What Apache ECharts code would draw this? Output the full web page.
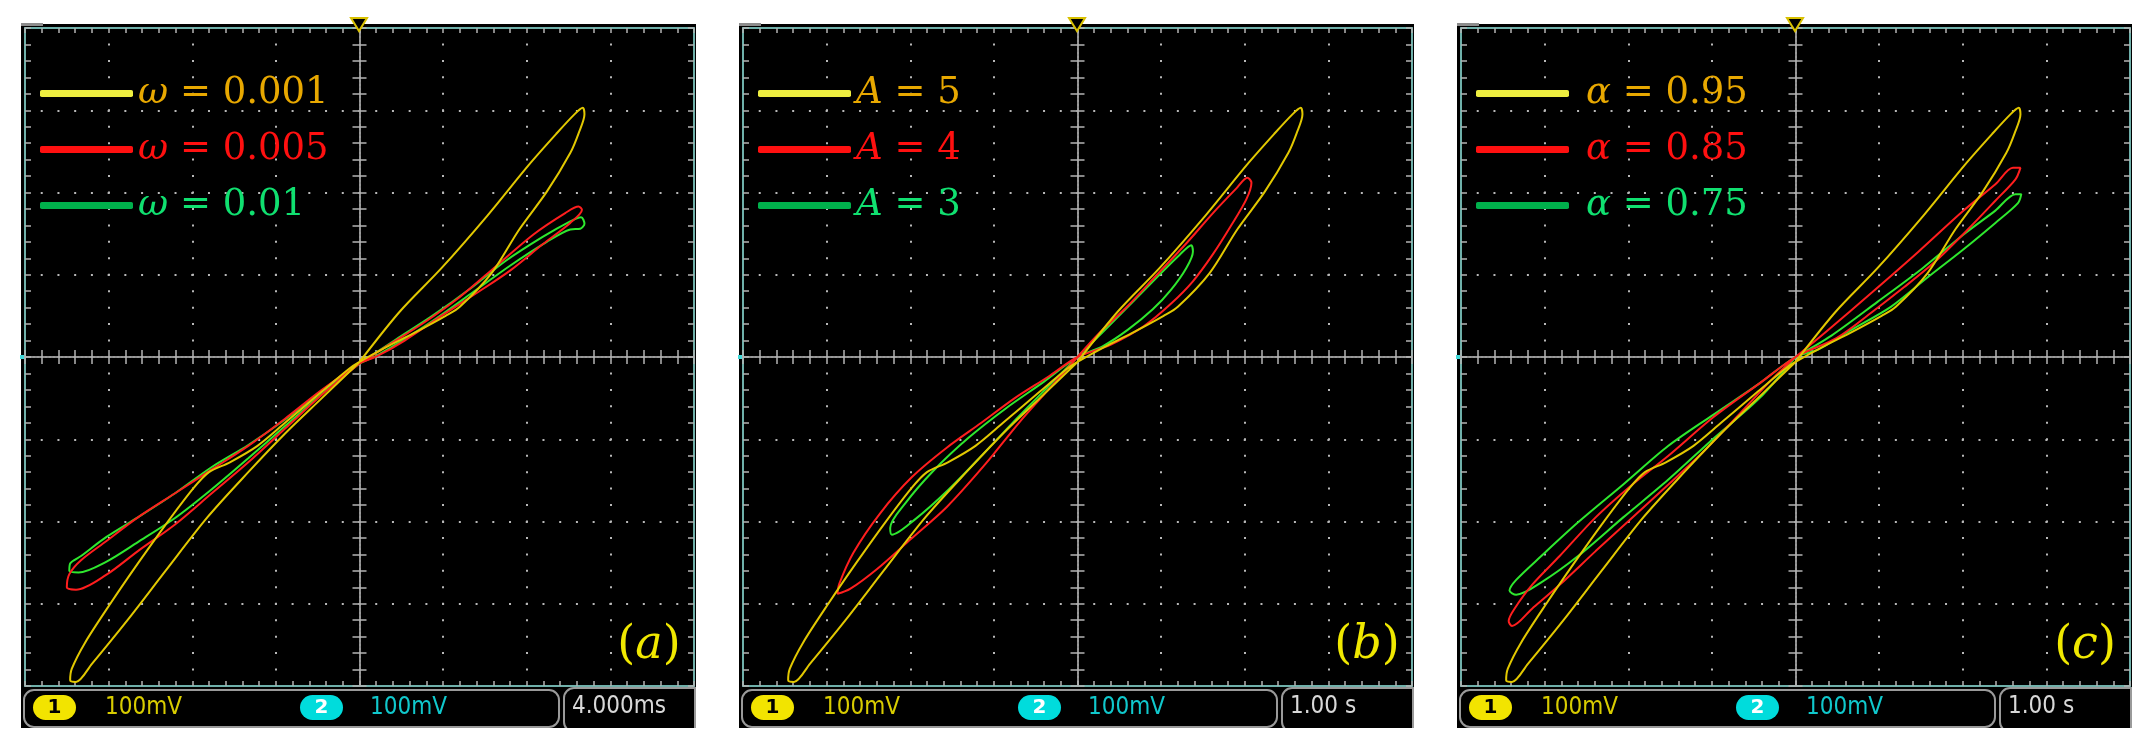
<!DOCTYPE html>
<html>
<head>
<meta charset="utf-8">
<script src="https://cdn.jsdelivr.net/npm/echarts@6/dist/echarts.min.js"></script>
<style>
  html, body { margin: 0; padding: 0; background: #fff; }
  #main { width: 2151px; height: 752px; }
</style>
</head>
<body>
<div id="main"></div>
<script>
// ---- text ----
var panelLabels = ['a', 'b', 'c'];
var seriesNames = [
  ['ω = 0.001', 'ω = 0.005', 'ω = 0.01'],
  ['A = 5', 'A = 4', 'A = 3'],
  ['α = 0.95', 'α = 0.85', 'α = 0.75']
];
var channelLabels = ['100mV', '100mV'];
var timeLabels = ['4.000ms', '1.00 s', '1.00 s'];

// ---- loops, in scope divisions (x, y) ----
// yellow reference loop (same settings in all three panels)
var baseLoop = [[0,-0.06],[0.48,0.55],[0.98,1.08],[1.53,1.72],[2.02,2.33],[2.35,2.71],[2.57,2.95],[2.67,3.03],[2.69,2.95],
  [2.62,2.72],[2.52,2.48],[2.24,2.01],[1.91,1.55],[1.58,1.02],[1.20,0.61],[1.03,0.50],[0.65,0.29],[0.32,0.12],[0,-0.06],
  [-0.12,-0.14],[-0.45,-0.42],[-0.89,-0.80],[-1.22,-1.08],[-1.55,-1.28],[-1.80,-1.40],[-1.99,-1.60],[-2.32,-2.04],
  [-2.65,-2.51],[-2.98,-3.00],[-3.28,-3.47],[-3.44,-3.79],[-3.46,-3.93],[-3.39,-3.95],[-3.20,-3.73],[-2.76,-3.18],
  [-2.32,-2.60],[-1.82,-1.95],[-1.33,-1.40],[-0.89,-0.93],[-0.45,-0.50],[0,-0.06]];

var omega005 = [[0,-0.08],[0.37,0.16],[0.76,0.41],[1.20,0.73],[1.64,1.11],[2.08,1.49],[2.46,1.75],[2.62,1.83],[2.66,1.79],
  [2.52,1.63],[2.19,1.37],[1.80,1.05],[1.42,0.79],[0.98,0.50],[0.54,0.20],[0.21,0.01],[0,-0.08],
  [-0.45,-0.40],[-0.89,-0.75],[-1.33,-1.08],[-1.77,-1.37],[-2.21,-1.66],[-2.65,-1.95],[-3.03,-2.24],[-3.33,-2.47],
  [-3.47,-2.64],[-3.50,-2.80],[-3.39,-2.83],[-3.03,-2.65],[-2.65,-2.36],[-2.21,-2.04],[-1.77,-1.66],[-1.33,-1.28],
  [-0.89,-0.87],[-0.45,-0.46],[0,-0.08]];

var omega01 = [[0,-0.08],[0.43,0.21],[0.87,0.50],[1.31,0.82],[1.75,1.17],[2.19,1.46],[2.52,1.65],[2.65,1.70],[2.69,1.62],
  [2.64,1.56],[2.52,1.55],[2.24,1.40],[1.80,1.11],[1.36,0.79],[0.92,0.47],[0.48,0.18],[0.21,0.02],[0,-0.08],
  [-0.45,-0.41],[-0.89,-0.76],[-1.33,-1.07],[-1.77,-1.34],[-2.21,-1.66],[-2.65,-1.95],[-3.03,-2.19],[-3.33,-2.42],
  [-3.46,-2.51],[-3.47,-2.60],[-3.36,-2.62],[-3.03,-2.49],[-2.65,-2.25],[-2.21,-1.96],[-1.77,-1.61],[-1.33,-1.23],
  [-0.89,-0.84],[-0.45,-0.45],[0,-0.08]];

var ampl4 = [[0,0],[0.25,0.28],[0.60,0.62],[0.95,1.00],[1.30,1.38],[1.62,1.75],[1.90,2.05],[2.03,2.18],[2.08,2.12],
  [2.02,1.92],[1.85,1.62],[1.62,1.25],[1.38,0.92],[1.12,0.65],[0.80,0.38],[0.40,0.15],[0,0],
  [-0.35,-0.24],[-0.75,-0.50],[-1.15,-0.80],[-1.56,-1.10],[-1.98,-1.46],[-2.36,-1.90],[-2.68,-2.38],[-2.85,-2.76],
  [-2.87,-2.88],[-2.72,-2.82],[-2.40,-2.58],[-2.00,-2.22],[-1.56,-1.82],[-1.10,-1.30],[-0.70,-0.80],[-0.35,-0.40],[0,0]];

var ampl3 = [[0,0],[0.30,0.30],[0.65,0.66],[0.98,1.00],[1.22,1.24],[1.36,1.36],[1.38,1.28],[1.30,1.08],[1.12,0.82],
  [0.90,0.58],[0.60,0.33],[0.30,0.13],[0,0],
  [-0.40,-0.30],[-0.85,-0.62],[-1.30,-0.98],[-1.72,-1.38],[-2.06,-1.78],[-2.24,-2.08],[-2.22,-2.16],[-1.95,-1.98],
  [-1.55,-1.62],[-1.10,-1.15],[-0.70,-0.72],[-0.35,-0.36],[0,0]];

var alpha085 = [[0,0],[0.38,0.32],[0.92,0.79],[1.47,1.28],[2.01,1.78],[2.39,2.10],[2.60,2.30],[2.69,2.30],[2.63,2.16],
  [2.39,1.90],[2.06,1.55],[1.68,1.17],[1.30,0.85],[0.92,0.55],[0.49,0.23],[0,0],
  [-0.43,-0.32],[-0.98,-0.73],[-1.52,-1.20],[-1.95,-1.55],[-2.39,-1.95],[-2.82,-2.42],[-3.15,-2.77],[-3.36,-3.06],
  [-3.43,-3.21],[-3.39,-3.27],[-3.15,-3.06],[-2.82,-2.77],[-2.39,-2.36],[-1.95,-1.95],[-1.52,-1.55],[-1.09,-1.14],
  [-0.65,-0.67],[-0.27,-0.26],[0,0]];

var alpha075 = [[0,0],[0.43,0.26],[0.98,0.67],[1.52,1.08],[2.01,1.49],[2.39,1.78],[2.63,1.98],[2.70,1.98],[2.66,1.87],
  [2.39,1.63],[2.01,1.31],[1.57,0.96],[1.14,0.61],[0.65,0.32],[0.27,0.09],[0,0],
  [-0.43,-0.32],[-0.98,-0.70],[-1.52,-1.08],[-2.06,-1.55],[-2.60,-2.01],[-3.04,-2.42],[-3.34,-2.71],[-3.42,-2.84],
  [-3.34,-2.89],[-3.04,-2.74],[-2.60,-2.42],[-2.06,-1.95],[-1.52,-1.49],[-0.98,-0.99],[-0.43,-0.50],[0,0]];

var panelData = [
  [baseLoop, omega005, omega01],
  [baseLoop, ampl4, ampl3],
  [baseLoop, alpha085, alpha075]
];

// ---- look ----
var curveColors = ['#e2c800', '#ff1e1e', '#2ee82e'];
var legendLineColors = ['#eeee40', '#ff1010', '#00b04c'];
var legendTextColors = ['#e8a800', '#ff1010', '#10e070'];
var panelX = [21, 739, 1457];
var gridW = 669, gridH = 658;
var tickColor = '#b4b4b4';

var chart = echarts.init(document.getElementById('main'));

var grids = [], xAxes = [], yAxes = [], series = [], legends = [], graphics = [];

function tick(inside, len) {
  return { show: true, inside: inside, length: len, lineStyle: { color: tickColor, width: 1.5 } };
}
function minor(len) {
  return { show: true, splitNumber: 5, length: len, lineStyle: { color: tickColor, width: 1.5 } };
}

for (var g = 0; g < 3; g++) {
  var ox = panelX[g];
  grids.push({ left: ox + 4, top: 28, width: gridW, height: gridH, containLabel: false });

  var base = { type: 'value', gridIndex: g, min: -4, max: 4, interval: 1, silent: true,
    axisLabel: { show: false }, splitLine: { show: false } };
  var border = { onZero: false, lineStyle: { color: '#6fb0aa', width: 2 } };
  var centre = { onZero: true, lineStyle: { color: '#9a9a9a', width: 2, type: [2, 2] } };

  // border axes (with the dotted grid) and the two halves of the centre crosses
  xAxes.push(Object.assign({}, base, { position: 'bottom', axisLine: border, axisTick: tick(true, 5), minorTick: minor(5),
    splitLine: { show: true, lineStyle: { color: '#b8b8b8', width: 2, type: [2, gridH / 40 - 2], dashOffset: 1 } } }));
  xAxes.push(Object.assign({}, base, { position: 'top', axisLine: border, axisTick: tick(true, 5), minorTick: minor(5) }));
  xAxes.push(Object.assign({}, base, { position: 'bottom', axisLine: centre, axisTick: tick(true, 7), minorTick: minor(7) }));
  xAxes.push(Object.assign({}, base, { position: 'bottom', axisLine: centre, axisTick: tick(false, 7), minorTick: minor(7) }));

  yAxes.push(Object.assign({}, base, { position: 'left', axisLine: border, axisTick: tick(true, 6), minorTick: minor(6),
    splitLine: { show: true, lineStyle: { color: '#b8b8b8', width: 2, type: [2, gridW / 40 - 2], dashOffset: 1 } } }));
  yAxes.push(Object.assign({}, base, { position: 'right', axisLine: border, axisTick: tick(true, 6), minorTick: minor(6) }));
  yAxes.push(Object.assign({}, base, { position: 'left', axisLine: centre, axisTick: tick(true, 7), minorTick: minor(7) }));
  yAxes.push(Object.assign({}, base, { position: 'left', axisLine: centre, axisTick: tick(false, 7), minorTick: minor(7) }));

  for (var s = 0; s < 3; s++) {
    series.push({
      type: 'line', name: seriesNames[g][s], xAxisIndex: g * 4, yAxisIndex: g * 4,
      data: panelData[g][s], showSymbol: false, smooth: 0.3, silent: true, z: 5 - s + 3,
      lineStyle: { color: curveColors[s], width: 2 }, itemStyle: { color: legendLineColors[s] }
    });
  }

  legends.push({
    orient: 'vertical', left: ox + 19, top: 75, padding: 0, itemWidth: 93, itemHeight: 7, itemGap: 19,
    icon: 'roundRect', selectedMode: false,
    data: seriesNames[g].map(function (n, i) {
      return { name: n, itemStyle: { color: legendLineColors[i] }, textStyle: { color: legendTextColors[i] } };
    }),
    formatter: function (n) { return '{i|' + n.charAt(0) + '}{t|' + n.slice(1) + '}'; },
    textStyle: {
      fontFamily: 'DejaVu Serif', fontSize: 37,
      rich: {
        i: { fontFamily: 'DejaVu Serif', fontStyle: 'italic', fontSize: 37, lineHeight: 40, padding: [0, 0, 0, g === 2 ? 12 : 0] },
        t: { fontFamily: 'DejaVu Serif', fontSize: 37, lineHeight: 40 }
      }
    }
  });

  // scope screen, status bar, marks
  graphics.push({ type: 'rect', z: -10, silent: true, shape: { x: ox, y: 24, width: 675, height: 704 }, style: { fill: '#000' } });
  graphics.push({ type: 'rect', z: 50, silent: true, shape: { x: ox, y: 23, width: 22, height: 3 }, style: { fill: '#8c8c8c' } });
  graphics.push({ type: 'rect', z: 50, silent: true, shape: { x: ox - 1, y: 355, width: 4, height: 4 }, style: { fill: '#40d8d8' } });
  graphics.push({ type: 'polygon', z: 50, silent: true,
    shape: { points: [[ox + 330, 18], [ox + 346, 18], [ox + 338, 31]] },
    style: { fill: '#000', stroke: '#d8c000', lineWidth: 2 } });
  graphics.push({ type: 'rect', z: 50, silent: true, shape: { x: ox + 3, y: 690, width: 535, height: 37, r: 10 },
    style: { fill: '#000', stroke: '#9a9a9a', lineWidth: 2 } });
  graphics.push({ type: 'rect', z: 51, silent: true, shape: { x: ox + 12, y: 695, width: 43, height: 25, r: 12.5 }, style: { fill: '#f2e400' } });
  graphics.push({ type: 'text', z: 52, silent: true, style: { text: '1', x: ox + 33.5, y: 708, align: 'center', verticalAlign: 'middle',
    fill: '#000', font: 'bold 20px "DejaVu Sans"' } });
  graphics.push({ type: 'text', z: 52, silent: true, style: { text: channelLabels[0], x: ox + 84, y: 708, verticalAlign: 'middle',
    fill: '#d8cc00', font: '24px "Liberation Sans Narrow", "DejaVu Sans Condensed", sans-serif' } });
  graphics.push({ type: 'rect', z: 51, silent: true, shape: { x: ox + 279, y: 695, width: 43, height: 25, r: 12.5 }, style: { fill: '#00dcdc' } });
  graphics.push({ type: 'text', z: 52, silent: true, style: { text: '2', x: ox + 300.5, y: 708, align: 'center', verticalAlign: 'middle',
    fill: '#fff', font: 'bold 20px "DejaVu Sans"' } });
  graphics.push({ type: 'text', z: 52, silent: true, style: { text: channelLabels[1], x: ox + 349, y: 708, verticalAlign: 'middle',
    fill: '#10c8cc', font: '24px "Liberation Sans Narrow", "DejaVu Sans Condensed", sans-serif' } });
  graphics.push({ type: 'rect', z: 50, silent: true, shape: { x: ox + 543, y: 688, width: 131, height: 44, r: [10, 0, 0, 10] },
    style: { fill: '#000', stroke: '#9a9a9a', lineWidth: 2 } });
  graphics.push({ type: 'text', z: 52, silent: true, style: { text: timeLabels[g], x: ox + 551, y: 707, verticalAlign: 'middle',
    fill: '#d8d8d8', font: '24px "Liberation Sans Narrow", "DejaVu Sans Condensed", sans-serif' } });
  graphics.push({ type: 'text', z: 52, silent: true, style: { text: '⊤ → 0.0000', x: ox + 551, y: 737, verticalAlign: 'middle',
    fill: '#d8c800', font: 'bold 20px "DejaVu Sans"' } });
  graphics.push({ type: 'rect', z: 200, silent: true, shape: { x: ox - 2, y: 728, width: 720, height: 24 }, style: { fill: '#fff' } });
  graphics.push({ type: 'text', z: 60, silent: true, style: {
    text: '{p|(}{i|' + panelLabels[g] + '}{p|)}', x: ox + 628, y: 646, align: 'center', verticalAlign: 'middle',
    rich: {
      p: { fontFamily: 'DejaVu Serif', fontSize: 46, fill: '#f0e800' },
      i: { fontFamily: 'DejaVu Serif', fontStyle: 'italic', fontSize: 46, fill: '#f0e800' }
    } } });
}

chart.setOption({
  backgroundColor: '#fff',
  animation: false,
  grid: grids,
  xAxis: xAxes,
  yAxis: yAxes,
  legend: legends,
  series: series,
  graphic: graphics
});
</script>
</body>
</html>
